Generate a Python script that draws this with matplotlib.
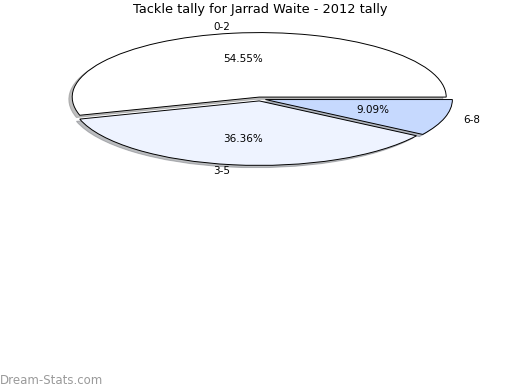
import matplotlib
matplotlib.use("Agg")
import matplotlib.pyplot as plt

# Data
labels = ["0-2", "3-5", "6-8"]
counts = [6, 4, 1]
colors = ["#ffffff", "#eef3ff", "#c6d9fe"]

fig = plt.figure(figsize=(5.2, 3.9), dpi=100)

# pie centre ~ (260, 99) px, radius ~187 px wide, ~64.5 px tall
rx, ry = 187 / 520, 64.5 / 390
lim = 1.3
ax = fig.add_axes([0.5 - lim * rx, (390 - 99) / 390 - lim * ry, 2 * lim * rx, 2 * lim * ry])

wedges, texts, autotexts = ax.pie(
    counts, labels=labels, colors=colors, autopct="%.2f%%",
    startangle=0, counterclock=True, explode=[0.03, 0.03, 0.03],
    shadow=dict(ox=-0.013, oy=-0.025, shade=0.5),
    labeldistance=1.1, pctdistance=0.6,
    wedgeprops=dict(edgecolor="black", linewidth=0.7),
    textprops=dict(fontsize=7.5),
)
ax.set_aspect("auto")
ax.set_xlim(-lim, lim)
ax.set_ylim(-lim, lim)

fig.text(0.5, 1 - 10 / 390, "Tackle tally for Jarrad Waite - 2012 tally",
         ha="center", va="center", fontsize=9.3)
fig.text(0.0, 1 - 380 / 390, "Dream-Stats.com", ha="left", va="center",
         fontsize=8.5, color="#9a9a9a")

fig.savefig("out.png", dpi=100)
